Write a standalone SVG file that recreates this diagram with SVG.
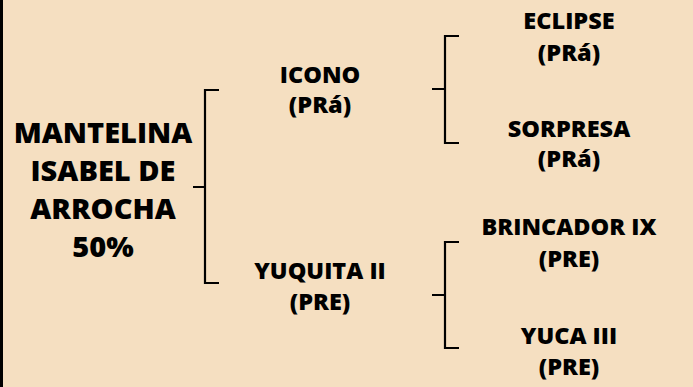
<svg xmlns="http://www.w3.org/2000/svg" width="693" height="387" viewBox="0 0 693 387">
<style>
text{font-family:"Open Sans","Liberation Sans",sans-serif;font-weight:800;fill:#000;text-anchor:middle}
.big{font-size:29px}
.mid{font-size:23.5px}
.br{fill:none;stroke:#000;stroke-width:2.2}
</style>
<rect x="0" y="0" width="693" height="387" fill="#F5DFC1"/>
<rect x="0" y="0" width="3" height="387" fill="#000"/>
<g id="connectors">
<path class="br" d="M219,90 H205 V283 H219 M193,187 H205"/>
<path class="br" d="M459,36 H445 V143 H459 M432,89 H445"/>
<path class="br" d="M459,242 H445 V348 H459 M432,295 H445"/>
</g>
<g id="root"><text class="big" x="103" y="143">MANTELINA</text><text class="big" x="103" y="181">ISABEL DE</text><text class="big" x="103" y="219">ARROCHA</text><text class="big" x="103" y="257">50%</text></g>
<g id="icono"><text class="mid" x="320" y="83">ICONO</text><text class="mid" x="320" y="113">(PRá)</text></g>
<g id="yuquita"><text class="mid" x="320" y="279">YUQUITA II</text><text class="mid" x="320" y="310">(PRE)</text></g>
<g id="eclipse"><text class="mid" x="569" y="29">ECLIPSE</text><text class="mid" x="569" y="61">(PRá)</text></g>
<g id="sorpresa"><text class="mid" x="569" y="137">SORPRESA</text><text class="mid" x="569" y="167">(PRá)</text></g>
<g id="brincador"><text class="mid" x="569" y="235">BRINCADOR IX</text><text class="mid" x="569" y="267">(PRE)</text></g>
<g id="yuca"><text class="mid" x="569" y="344">YUCA III</text><text class="mid" x="569" y="375">(PRE)</text></g>
</svg>
